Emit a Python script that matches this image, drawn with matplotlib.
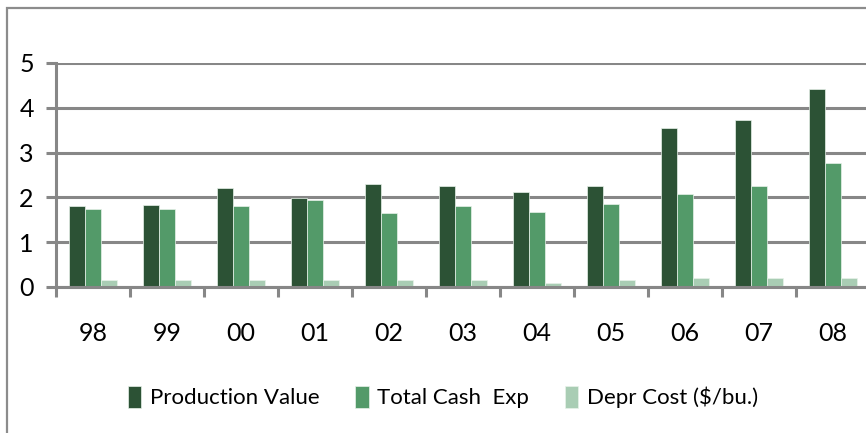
import matplotlib
matplotlib.use("Agg")
import matplotlib.pyplot as plt
from matplotlib.patches import Rectangle
import numpy as np

# --- data ---
years = ["98", "99", "00", "01", "02", "03", "04", "05", "06", "07", "08"]
production_value = [1.80, 1.84, 2.21, 1.98, 2.30, 2.26, 2.12, 2.26, 3.54, 3.73, 4.42]
total_cash_exp = [1.74, 1.74, 1.80, 1.94, 1.66, 1.80, 1.67, 1.85, 2.08, 2.26, 2.77]
depr_cost = [0.16, 0.16, 0.16, 0.16, 0.16, 0.16, 0.10, 0.16, 0.20, 0.20, 0.20]

series_names = ["Production Value", "Total Cash  Exp", "Depr Cost ($/bu.)"]
colors = ["#2c5235", "#539a69", "#a9cdb4"]
grid_gray = "#878787"

plt.rcParams["font.family"] = ["Lato", "DejaVu Sans"]

fig = plt.figure(figsize=(8.66, 4.33), dpi=100)

# outer chart border (only top and left visible in the crop)
fig.add_artist(Rectangle((7 / 866, -0.1), 1.2, 1 - 8 / 433 + 0.1,
                         transform=fig.transFigure, fill=False,
                         edgecolor="#8c8c8c", linewidth=1.6))

ax = fig.add_axes([56 / 866, 1 - 287 / 433, 814 / 866, 224 / 433])

x = np.arange(len(years))
w = 0.22
for i, vals in enumerate([production_value, total_cash_exp, depr_cost]):
    ax.bar(x + (i - 1) * w, vals, width=w, color=colors[i],
           edgecolor="#e8f2ea", linewidth=0.5, label=series_names[i], zorder=3)

ax.set_xlim(-0.5, len(years) - 0.5)
ax.set_ylim(0, 5)
ax.set_yticks(range(6))
ax.yaxis.grid(True, color=grid_gray, linewidth=2.2, zorder=0)
ax.set_axisbelow(True)

for s in ["top", "right"]:
    ax.spines[s].set_visible(False)
for s in ["left", "bottom"]:
    ax.spines[s].set_color(grid_gray)
    ax.spines[s].set_linewidth(2.2)
    ax.spines[s].set_zorder(4)

ax.set_xticks(x)
ax.set_xticklabels(years)
ax.set_xticks(np.arange(len(years) + 1) - 0.5, minor=True)
ax.tick_params(axis="x", which="major", length=0, pad=25, labelsize=18)
ax.tick_params(axis="x", which="minor", length=7, width=2.2, color=grid_gray,
               direction="out")
ax.tick_params(axis="y", length=7, width=2.2, color=grid_gray, pad=9, labelsize=18)

handles, labels = ax.get_legend_handles_labels()
fig.legend(handles, labels, loc="center", bbox_to_anchor=(443 / 866, 1 - 397 / 433),
           ncol=3, frameon=False, fontsize=16, handlelength=0.6, handleheight=1.2,
           handletextpad=0.4, columnspacing=1.6)

fig.savefig("out.png", dpi=100)
